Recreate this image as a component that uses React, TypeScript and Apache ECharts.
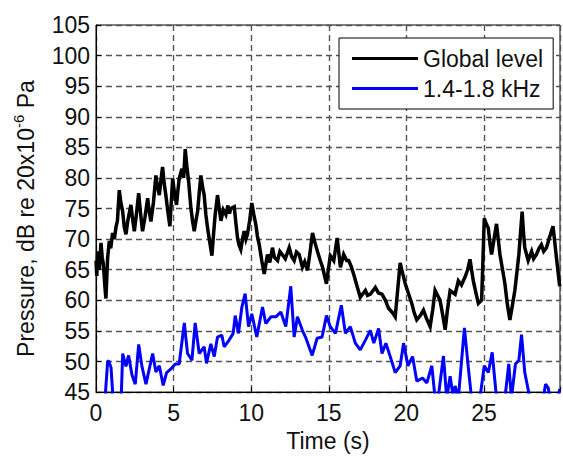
import React, { useEffect, useRef } from "react";
import * as echarts from "echarts";

const SERIES_NAMES = ["Global level", "1.4-1.8 kHz"];
const X_TICKS = [0, 5, 10, 15, 20, 25];

const T_GLOBAL = [
  0, 0.05, 0.11, 0.21, 0.32, 0.4, 0.47, 0.58, 0.64, 0.7, 0.75, 0.86, 0.95, 1.07, 1.18, 1.29, 1.38, 1.5, 1.6, 1.72,
  1.82, 1.93, 2.05, 2.25, 2.35, 2.47, 2.6, 2.75, 2.88, 3.0, 3.15, 3.33, 3.43, 3.54, 3.7, 3.86, 3.97, 4.08, 4.18, 4.29,
  4.4, 4.51, 4.63, 4.76, 4.85, 4.94, 5.06, 5.19, 5.28, 5.36, 5.54, 5.65, 5.75, 5.85, 5.97, 6.05, 6.12, 6.22, 6.33, 6.44,
  6.55, 6.65, 6.76, 6.87, 6.97, 7.08, 7.19, 7.33, 7.47, 7.58, 7.68, 7.83, 7.94, 8.05, 8.2, 8.37, 8.5, 8.6, 8.69, 8.91,
  9.02, 9.12, 9.22, 9.33, 9.44, 9.55, 9.66, 9.76, 9.9, 10.04, 10.17, 10.3, 10.4, 10.52, 10.68, 10.84, 10.95, 11.05, 11.2, 11.37,
  11.5, 11.7, 11.85, 12.0, 12.2, 12.45, 12.6, 12.77, 12.92, 13.09, 13.3, 13.45, 13.63, 13.8, 13.95, 14.1, 14.27, 14.45, 14.6, 14.85,
  14.97, 15.1, 15.32, 15.54, 15.75, 15.96, 16.15, 16.28, 16.45, 16.6, 16.8, 17.03, 17.36, 17.5, 17.68, 18.0, 18.2, 18.43, 18.65, 18.85,
  19.1, 19.28, 19.45, 19.6, 19.75, 19.93, 20.15, 20.35, 20.5, 20.67, 20.9, 21.1, 21.3, 21.53, 21.7, 21.85, 22.17, 22.35, 22.5, 22.65,
  22.82, 23.14, 23.35, 23.55, 23.78, 23.95, 24.1, 24.31, 24.5, 24.64, 24.85, 25.02, 25.15, 25.28, 25.4, 25.49, 25.65, 25.81, 25.92, 26.03,
  26.2, 26.35, 26.5, 26.67, 26.82, 26.99, 27.12, 27.25, 27.46, 27.55, 27.63, 27.85, 28.07, 28.2, 28.38, 28.55, 28.7, 28.85, 29.03, 29.25,
  29.45, 29.67, 29.88,
];
const V_GLOBAL = [
  66.5, 64, 68, 65, 69.4, 67, 66, 62, 60.3, 64, 67, 69.7, 68.5, 71, 70, 72, 73, 78, 76, 74.5,
  72, 70.8, 73, 75.6, 73.5, 71.3, 74, 77.5, 74, 71.3, 73.5, 76.7, 74.5, 72.9, 76, 80.4, 78.5, 77.2, 79.5, 81.8,
  79, 77, 74.5, 72.1, 76, 79.9, 77.5, 75.6, 78, 79.9, 81.5, 80, 84.7, 82, 79.4, 77, 75, 73, 71.3, 73,
  74.6, 77.5, 80.4, 78.5, 77.2, 74, 71.8, 69.5, 67.3, 71, 74, 77.2, 75, 73, 74.8, 74, 75.5, 74.2, 75, 75.3,
  72.5, 70.2, 69, 68.3, 70, 71.3, 70, 70.8, 73, 75.9, 74, 72.4, 70.5, 69.1, 66.5, 64.3, 66, 67.5, 66.2, 68.6,
  67, 66.5, 68, 67.5, 66.8, 68.6, 67.2, 66.5, 67.9, 67.5, 65.4, 66.3, 64.9, 68, 71, 69.5, 68, 66.5, 65.4, 62.7,
  65, 67.3, 66.5, 70.2, 65.4, 67.5, 66.5, 66.5, 65.5, 64.3, 62.5, 60.5, 61.6, 60.8, 61, 62.1, 61.2, 61, 60, 58.7,
  58, 57.3, 62, 66.1, 64.5, 62.7, 61, 59.5, 58, 56.8, 57.5, 58.4, 57, 55.7, 58.5, 61.6, 60, 57.5, 55.2, 58.5,
  61.6, 61, 63.2, 62.5, 63.8, 65, 66.7, 63.2, 61, 59.5, 60, 73.4, 72.5, 71.8, 69, 67.5, 70, 72.5, 70, 67.5,
  65, 62.7, 59.5, 56.8, 59, 61.6, 64.5, 67.5, 74.5, 71, 68.6, 66.5, 68, 66.8, 67.5, 68.5, 69.1, 68, 68.6, 70.5,
  72.1, 67, 62.3,
];

const T_BAND = [
  0, 0.6, 0.75, 0.82, 0.97, 1.12, 1.61, 1.72, 1.93, 2.1, 2.32, 2.53, 2.75, 2.96, 3.22, 3.65, 3.86, 4.08, 4.33, 4.55,
  4.83, 5.11, 5.36, 5.69, 5.9, 6.18, 6.39, 6.65, 6.97, 7.12, 7.4, 7.62, 7.83, 8.11, 8.26, 8.58, 8.84, 8.97, 9.18, 9.4,
  9.61, 9.83, 10.04, 10.36, 10.73, 10.94, 11.27, 11.59, 11.91, 12.23, 12.55, 12.77, 12.98, 13.3, 13.5, 13.93, 14.25, 14.57, 14.85, 15.1,
  15.43, 15.81, 16.07, 16.39, 16.71, 17.03, 17.36, 17.68, 17.9, 18.21, 18.43, 18.68, 18.96, 19.28, 19.6, 19.82, 20.1, 20.4, 20.67, 21.04,
  21.32, 21.64, 21.85, 22.07, 22.39, 22.6, 22.82, 23.03, 23.14, 23.35, 23.74, 24.0, 24.2, 24.74, 25.02, 25.28, 25.53, 25.81, 26.35, 26.6,
  26.77, 27.03, 27.25, 27.42, 27.63, 27.96, 28.82, 28.97, 29.14, 29.25, 29.78, 29.88,
];
const V_BAND = [
  42, 44.5, 50, 50.1, 49, 43, 43, 51.3, 49.2, 51, 47.8, 46.3, 52.8, 49.2, 46.3, 51.3, 48.3, 49.3, 46.1, 48.2,
  48.8, 49.6, 49.6, 56.3, 51.3, 50.2, 56.3, 51.3, 52.4, 49.7, 52.9, 50.8, 54, 54.3, 52.4, 53.5, 54.6, 57.5, 54.6, 58.9,
  61.1, 55.7, 57.8, 54, 58.9, 56.2, 57.3, 57.3, 58.1, 55.7, 62.3, 54, 57.3, 55.1, 54, 51, 53.8, 54, 57.5, 55.7,
  54.6, 59.2, 54.6, 55.7, 53, 51.9, 53.5, 55.1, 53, 55.4, 51.3, 53, 50.8, 48.2, 49.3, 53, 49.3, 50.8, 46.8, 47.3,
  46.5, 49.3, 44, 44.5, 50.9, 44, 47.6, 44, 46, 44, 55.5, 48.8, 44, 44, 49.3, 48.2, 51.5, 44, 44, 49.6,
  44, 49.6, 50.2, 54.4, 48.2, 44, 44, 46.3, 45.7, 44, 44, 45.5,
];

const FONT = "'Liberation Sans', Arial, Helvetica, sans-serif";
const TEXT_COLOR = "#111";

export default function App() {
  const ref = useRef<HTMLDivElement>(null);
  useEffect(() => {
    if (!ref.current) return;
    const chart = echarts.init(ref.current, undefined, { renderer: "svg" });
    const globalData = T_GLOBAL.map((t, i) => [t, V_GLOBAL[i]]);
    const bandData = T_BAND.map((t, i) => [t, V_BAND[i]]);
    const gridLine = { show: true, lineStyle: { color: "#555", type: [6, 4], width: 1.4 } };
    chart.setOption({
      animation: false,
      backgroundColor: "#fff",
      textStyle: { fontFamily: FONT },
      grid: {
        left: 96,
        right: 1,
        top: 25,
        bottom: 61,
        show: true,
        borderColor: "#000",
        borderWidth: 1,
        backgroundColor: "transparent",
      },
      legend: {
        left: 339,
        top: 38,
        orient: "vertical",
        backgroundColor: "#fff",
        borderColor: "#000",
        borderWidth: 1,
        borderRadius: 0,
        padding: [9, 10, 9, 13],
        itemWidth: 66,
        itemHeight: 3,
        itemGap: 7,
        icon: "rect",
        data: SERIES_NAMES,
        textStyle: { fontSize: 23, fontFamily: FONT, color: TEXT_COLOR, lineHeight: 23 },
      },
      xAxis: {
        type: "value",
        min: 0,
        max: 29.9,
        interval: 5,
        name: "Time (s)",
        nameLocation: "middle",
        nameGap: 36,
        nameTextStyle: { fontSize: 23, color: TEXT_COLOR, fontFamily: FONT },
        axisLine: { show: true, lineStyle: { color: "#000", width: 1 } },
        axisTick: { show: true, inside: true, length: 5, lineStyle: { color: "#000" } },
        axisLabel: {
          fontSize: 23,
          color: TEXT_COLOR,
          fontFamily: FONT,
          margin: 9,
          formatter: (v: number) => (X_TICKS.includes(Math.round(v * 1000) / 1000) ? String(v) : ""),
        },
        splitLine: gridLine,
      },
      yAxis: {
        type: "value",
        min: 45,
        max: 105,
        interval: 5,
        name: "Pressure, dB re 20x10{sup|-6} Pa",
        nameLocation: "middle",
        nameGap: 52,
        nameRotate: 90,
        nameTextStyle: {
          fontSize: 23,
          color: TEXT_COLOR,
          fontFamily: FONT,
          lineHeight: 30,
          padding: [0, 20, 0, 0],
          rich: {
            sup: { fontSize: 15, fontFamily: FONT, color: TEXT_COLOR, verticalAlign: "top", lineHeight: 14 },
          },
        },
        axisLine: { show: true, lineStyle: { color: "#000", width: 1 } },
        axisTick: { show: true, inside: true, length: 5, lineStyle: { color: "#000" } },
        axisLabel: { fontSize: 23, color: TEXT_COLOR, fontFamily: FONT, margin: 6 },
        splitLine: gridLine,
      },
      series: [
        {
          name: SERIES_NAMES[0],
          type: "line",
          data: globalData,
          showSymbol: false,
          symbol: "none",
          lineStyle: { color: "#000", width: 3.5, join: "miter" },
          itemStyle: { color: "#000" },
          clip: true,
        },
        {
          name: SERIES_NAMES[1],
          type: "line",
          data: bandData,
          showSymbol: false,
          symbol: "none",
          lineStyle: { color: "#0000ff", width: 3 },
          itemStyle: { color: "#0000ff" },
          clip: true,
        },
      ],
    });
    return () => chart.dispose();
  }, []);
  return <div ref={ref} style={{ width: 563, height: 457, position: "fixed", left: 0, top: 0 }} />;
}
